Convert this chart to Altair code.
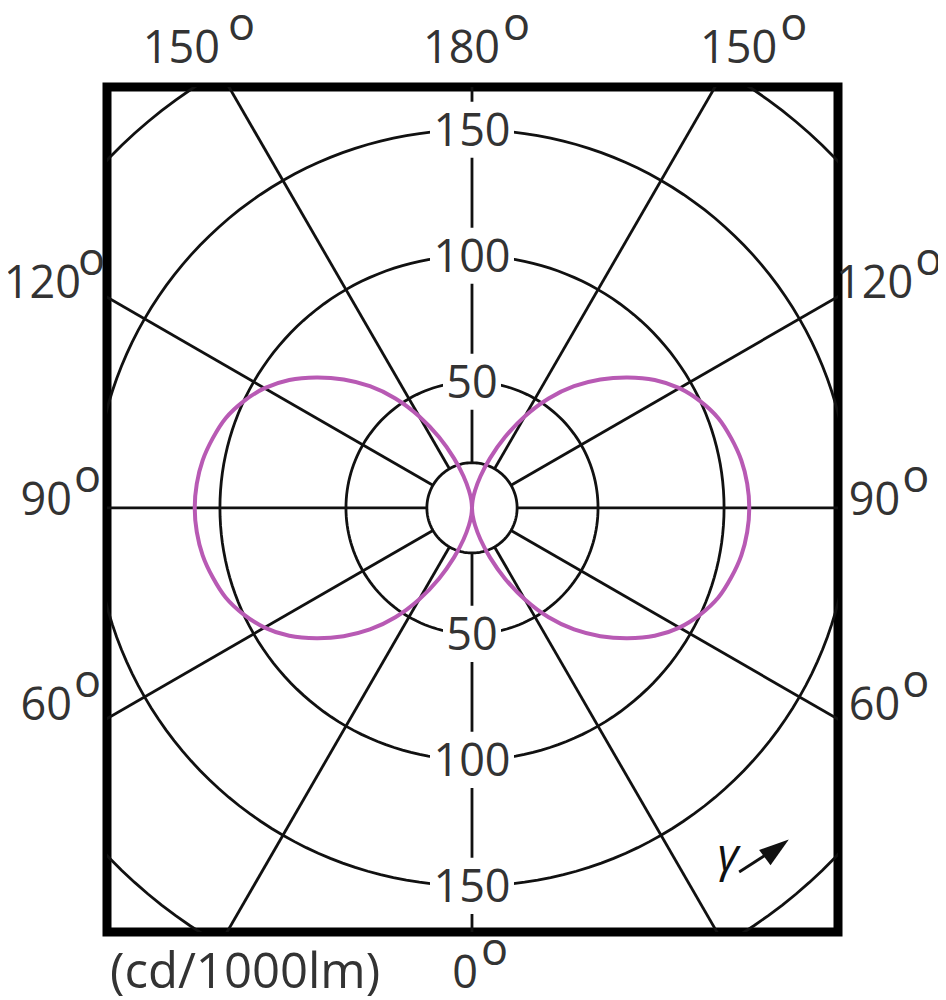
import altair as alt
import numpy as np
import pandas as pd

# ---------------- data ----------------
gamma_deg = list(range(0, 181, 5))
intensity = [0, 3, 7, 13, 21, 31, 42, 53, 63, 72, 80.5, 88.5, 95, 100, 104, 106.5, 108.5, 109.6, 110,
             109.6, 108.5, 106.5, 104, 100, 95, 88.5, 80.5, 72, 63, 53, 42, 31, 21, 13, 7, 3, 0]
ring_values = [50, 100, 150, 200]
hub_radius = 17.9
spoke_angles = list(range(0, 360, 30))
ring_label_values = [150, 100, 50, -50, -100, -150]
angle_label_texts = ["150", "180", "150", "120", "90", "60", "120", "90", "60", "0"]
unit_text = "(cd/1000lm)"

# ---------------- layout ----------------
K = 2.52                     # px per cd
PLOT_W, PLOT_H = 731, 845
X_DOM = [-144.8, 145.2]
Y_DOM = [-168.3, 167.0]
LEFT, TOP = 107, 87          # page px of plot origin

def pxx(px):
    return (px - LEFT) / K + X_DOM[0]

def pxy(py):
    return Y_DOM[1] - (py - TOP) / K

FONT = "Open Sans"
FS = 45
TXT = "#333333"
LINE = "#111111"
CURVE = "#b85ab4"

def X(f):
    return alt.X(f, type="quantitative", scale=alt.Scale(domain=X_DOM, nice=False, zero=False), axis=None)

def Y(f):
    return alt.Y(f, type="quantitative", scale=alt.Scale(domain=Y_DOM, nice=False, zero=False), axis=None)

# rings
rows = []
for r in ring_values + [hub_radius]:
    for a in range(0, 361, 2):
        t = np.radians(a)
        rows.append({"ring": r, "a": a, "x": r * np.sin(t), "y": r * np.cos(t)})
rings_df = pd.DataFrame(rows)
rings = alt.Chart(rings_df).mark_line(clip=True, stroke=LINE, strokeWidth=2.8).encode(
    x=X("x"), y=Y("y"), detail="ring:N", order="a:Q")

# spokes
sp = pd.DataFrame({"a": spoke_angles})
sp["x"] = hub_radius * np.sin(np.radians(sp["a"]))
sp["y"] = hub_radius * np.cos(np.radians(sp["a"]))
sp["x2"] = 280 * np.sin(np.radians(sp["a"]))
sp["y2"] = 280 * np.cos(np.radians(sp["a"]))
spokes = alt.Chart(sp).mark_rule(clip=True, stroke=LINE, strokeWidth=2.8).encode(
    x=X("x"), y=Y("y"), x2="x2:Q", y2="y2:Q")

# curve (two symmetric half planes)
cd = pd.concat([pd.DataFrame({"g": gamma_deg, "I": intensity, "side": s}) for s in (1, -1)])
curve = alt.Chart(cd).transform_calculate(
    cx="datum.side * datum.I * sin(datum.g * PI / 180)",
    cy="-datum.I * cos(datum.g * PI / 180)",
).mark_line(clip=True, stroke=CURVE, strokeWidth=4, interpolate="catmull-rom").encode(
    x=X("cx"), y=Y("cy"), detail="side:N", order="g:Q")

# inner ring labels with white boxes
il = pd.DataFrame({"v": ring_label_values})
il["text"] = il["v"].abs().astype(str)
il["x"] = 0.0
il["box"] = np.where(il["text"].str.len() == 3,
                     "M-1,-0.667L1,-0.667L1,0.667L-1,0.667Z",
                     "M-1,-0.966L1,-0.966L1,0.966L-1,0.966Z")
il["sz"] = np.where(il["text"].str.len() == 3, 84 ** 2, 58 ** 2)
boxes = alt.Chart(il).mark_point(filled=True, fill="white", stroke=None, opacity=1).encode(
    x=X("x"), y=Y("v"), shape=alt.Shape("box:N", scale=None), size=alt.Size("sz:Q", scale=None))
inner_text = alt.Chart(il).mark_text(font=FONT, fontSize=FS, color=TXT, baseline="alphabetic", dy=16).encode(
    x=X("x"), y=Y("v"), text="text:N")

# outer angle labels (right edge px, baseline px, "o" left px)
right_px = [220, 500, 777, 81, 72, 72, 913, 900, 900, 478]
base_px = [63, 63, 63, 298, 515, 720, 298, 515, 720, 988]
o_px = [228, 503, 780, 78, 74, 74, 915, 902, 902, 481]
ol = pd.DataFrame({"text": angle_label_texts,
                   "x": [pxx(v) for v in right_px],
                   "y": [pxy(v) for v in base_px],
                   "ox": [pxx(v) for v in o_px]})
outer_text = alt.Chart(ol).mark_text(font=FONT, fontSize=FS, color=TXT, align="right", baseline="alphabetic").encode(
    x=X("x"), y=Y("y"), text="text:N")
outer_o = alt.Chart(ol).mark_text(font=FONT, fontSize=FS, color=TXT, align="left", baseline="alphabetic", dy=-23, text="o").encode(
    x=X("ox"), y=Y("y"))

unit = alt.Chart(pd.DataFrame({"t": [unit_text], "x": [pxx(110)], "y": [pxy(988)]})).mark_text(
    font=FONT, fontSize=49, color=TXT, align="left", baseline="alphabetic").encode(x=X("x"), y=Y("y"), text="t:N")

gam = alt.Chart(pd.DataFrame({"t": ["γ"], "x": [pxx(728)], "y": [pxy(871)]})).mark_text(
    font=FONT, fontSize=46, fontStyle="italic", color="#111", align="center", baseline="alphabetic").encode(
    x=X("x"), y=Y("y"), text="t:N")
arrow_line = alt.Chart(pd.DataFrame({"x": [pxx(739)], "y": [pxy(872)], "x2": [pxx(770)], "y2": [pxy(852)]})).mark_rule(
    stroke="#111", strokeWidth=2.8).encode(x=X("x"), y=Y("y"), x2="x2:Q", y2="y2:Q")
arrow_head = alt.Chart(pd.DataFrame({"x": [pxx(776)], "y": [pxy(849)]})).mark_point(
    shape="M0,-1L0.6,0.9L-0.6,0.9Z", filled=True, fill="#111", stroke=None, opacity=1, size=1000, angle=53).encode(
    x=X("x"), y=Y("y"))

chart = alt.layer(rings, spokes, curve, boxes, inner_text, outer_text, outer_o, unit, gam, arrow_line, arrow_head).properties(
    width=PLOT_W, height=PLOT_H,
    autosize=alt.AutoSizeParams(type="none"),
    padding={"left": LEFT - 8, "top": TOP - 8, "right": 100, "bottom": 68},
    background="white",
).configure_view(stroke="black", strokeWidth=9)

chart.save("out.html", embed_options={"renderer": "svg", "actions": False})
